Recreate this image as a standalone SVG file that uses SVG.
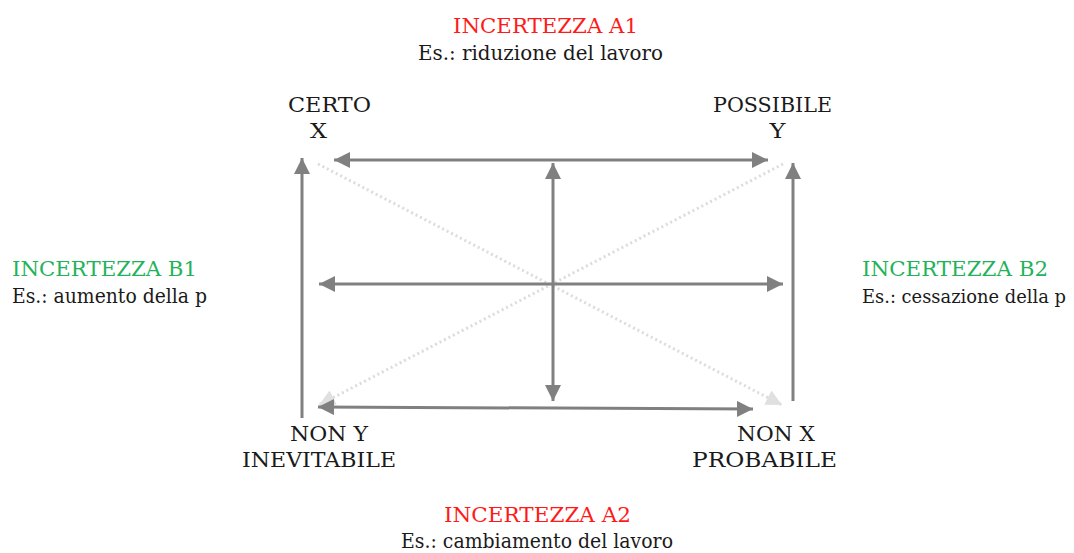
<svg xmlns="http://www.w3.org/2000/svg" width="1074" height="553" viewBox="0 0 1074 553">
<defs>
<marker id="ah" markerUnits="userSpaceOnUse" markerWidth="18" markerHeight="16" refX="16" refY="8" orient="auto-start-reverse" viewBox="0 0 18 16">
<path d="M0,0 L16,8 L0,16 Z" fill="#808080"/>
</marker>
<marker id="ahl" markerUnits="userSpaceOnUse" markerWidth="18" markerHeight="16" refX="16" refY="8" orient="auto" viewBox="0 0 18 16">
<path d="M0,0 L16,8 L0,16 Z" fill="#e0e0e0"/>
</marker>
</defs>
<style>
text{font-family:"DejaVu Serif","Liberation Serif",serif;font-size:20px;fill:#1a1a1a}
.red{fill:#ff1a1a}
.green{fill:#1fb35a}
.mid{text-anchor:middle}
.arr{stroke:#808080;stroke-width:3;fill:none}
.dot{stroke:#dcdcdc;stroke-width:3;stroke-dasharray:2 3;fill:none}
</style>
<rect width="1074" height="553" fill="#ffffff"/>
<g id="connectors">
<line class="dot" x1="318" y1="164" x2="782" y2="405" marker-end="url(#ahl)"/>
<line class="dot" x1="783" y1="164" x2="319" y2="405" marker-end="url(#ahl)"/>
<line class="arr" x1="302" y1="418" x2="302" y2="158" marker-end="url(#ah)"/>
<line class="arr" x1="793" y1="401" x2="793" y2="163" marker-end="url(#ah)"/>
<line class="arr" x1="334" y1="160" x2="768" y2="160" marker-start="url(#ah)" marker-end="url(#ah)"/>
<line class="arr" x1="319" y1="284" x2="783" y2="284" marker-start="url(#ah)" marker-end="url(#ah)"/>
<line class="arr" x1="553" y1="163" x2="553" y2="401" marker-start="url(#ah)" marker-end="url(#ah)"/>
<line class="arr" x1="318" y1="407" x2="753" y2="409" marker-start="url(#ah)" marker-end="url(#ah)"/>
</g>
<g id="a1">
<text class="red mid" x="545.5" y="33" textLength="185" lengthAdjust="spacingAndGlyphs">INCERTEZZA A1</text>
<text class="mid" x="540.5" y="60" textLength="245" lengthAdjust="spacingAndGlyphs">Es.: riduzione del lavoro</text>
</g>
<g id="certo">
<text class="mid" x="329.5" y="112" textLength="83" lengthAdjust="spacingAndGlyphs">CERTO</text>
<text class="mid" x="318.5" y="138" textLength="17" lengthAdjust="spacingAndGlyphs">X</text>
</g>
<g id="possibile">
<text class="mid" x="772.5" y="112" textLength="119" lengthAdjust="spacingAndGlyphs">POSSIBILE</text>
<text class="mid" x="777.5" y="138" textLength="16" lengthAdjust="spacingAndGlyphs">Y</text>
</g>
<g id="b1">
<text class="green" x="12" y="276" textLength="185" lengthAdjust="spacingAndGlyphs">INCERTEZZA B1</text>
<text x="12" y="303" textLength="195" lengthAdjust="spacingAndGlyphs">Es.: aumento della p</text>
</g>
<g id="b2">
<text class="green" x="862" y="276" textLength="186" lengthAdjust="spacingAndGlyphs">INCERTEZZA B2</text>
<text x="862" y="303" style="font-size:18px" textLength="204" lengthAdjust="spacingAndGlyphs">Es.: cessazione della p</text>
</g>
<g id="nony">
<text class="mid" x="329" y="441" textLength="78" lengthAdjust="spacingAndGlyphs">NON Y</text>
<text class="mid" x="319" y="467" textLength="154" lengthAdjust="spacingAndGlyphs">INEVITABILE</text>
</g>
<g id="nonx">
<text class="mid" x="776" y="441" textLength="78" lengthAdjust="spacingAndGlyphs">NON X</text>
<text class="mid" x="764.5" y="467" textLength="145" lengthAdjust="spacingAndGlyphs">PROBABILE</text>
</g>
<g id="a2">
<text class="red mid" x="537.5" y="522" textLength="187" lengthAdjust="spacingAndGlyphs">INCERTEZZA A2</text>
<text class="mid" x="537" y="548" textLength="272" lengthAdjust="spacingAndGlyphs">Es.: cambiamento del lavoro</text>
</g>
</svg>
